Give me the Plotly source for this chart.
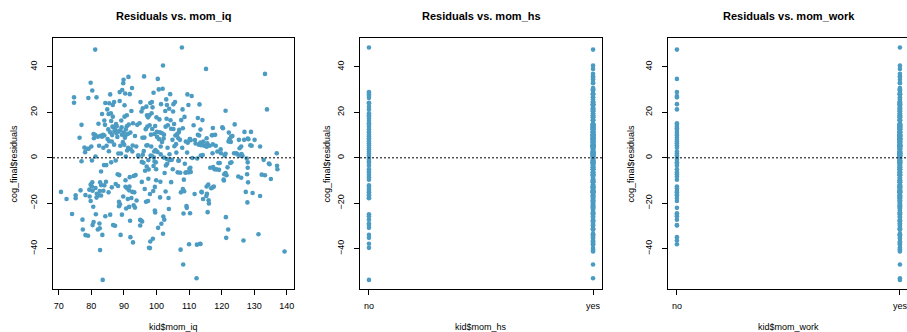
import plotly.graph_objects as go

# ---------------- data ----------------
mom_iq = [
70.7,72.4,74.1,74.7,74.7,75.2,75.2,76.4,76.7,77.0,77.0,77.3,77.4,77.9,78.1,78.2,78.2,78.8,79.0,79.1,
79.2,79.4,79.5,79.8,79.8,80.0,80.2,80.3,80.2,80.4,80.4,80.6,80.7,80.8,81.2,81.2,81.3,81.4,81.6,81.7,
82.0,82.0,82.2,82.3,82.4,82.5,82.6,82.7,82.7,83.0,83.0,83.3,83.3,83.4,83.5,83.7,83.7,83.9,84.0,84.0,
84.0,84.2,84.3,84.3,84.5,84.6,84.7,84.9,85.0,85.3,85.3,85.4,85.5,85.5,85.8,85.8,86.0,86.1,86.1,86.3,
86.5,86.6,86.6,86.7,86.9,87.0,87.0,87.1,87.3,87.3,87.5,87.7,87.8,88.0,88.1,88.3,88.3,88.5,88.5,88.6,
88.7,88.7,88.8,88.9,89.0,89.1,89.2,89.3,89.4,89.5,89.7,89.8,89.9,90.0,90.1,90.2,90.2,90.3,90.4,90.4,
90.5,90.5,90.6,90.7,90.9,90.9,91.0,91.2,91.2,91.3,91.4,91.5,91.6,91.7,91.8,91.8,91.9,92.0,92.0,92.1,
92.3,92.3,92.5,92.6,92.7,92.8,92.8,93.0,93.0,93.2,93.4,93.4,93.6,93.8,94.1,94.5,94.8,95.0,95.0,95.1,
95.3,95.4,95.5,95.6,95.7,95.8,96.0,96.2,96.3,96.4,96.5,96.7,96.8,96.9,96.9,97.0,97.1,97.2,97.3,97.4,
97.4,97.5,97.6,97.7,97.8,97.9,98.0,98.0,98.1,98.1,98.2,98.3,98.4,98.5,98.6,98.7,98.8,98.9,99.0,99.1,
99.1,99.2,99.3,99.4,99.4,99.5,99.5,99.6,99.6,99.7,99.8,99.9,100.0,100.1,100.2,100.3,100.4,100.5,100.7,100.8,
100.9,101.0,101.1,101.2,101.3,101.4,101.5,101.6,101.7,101.9,102.0,102.0,102.1,102.2,102.3,102.3,102.4,102.5,102.7,102.8,
102.9,103.0,103.1,103.2,103.3,103.4,103.5,103.7,103.8,103.9,104.0,104.2,104.3,104.5,104.7,104.9,105.0,105.1,105.2,105.4,
105.5,105.7,105.8,106.0,106.1,106.3,106.5,106.7,106.9,107.0,107.3,107.4,107.5,107.6,107.8,107.9,108.0,108.1,108.2,108.3,
108.4,108.6,108.7,108.9,109.0,109.2,109.4,109.5,109.6,109.8,109.9,110.0,110.1,110.2,110.3,110.4,110.5,110.8,111.0,111.4,
111.7,112.0,112.3,112.4,112.5,112.7,113.0,113.1,113.2,113.4,113.5,113.6,113.8,114.0,114.1,114.2,114.3,114.4,114.7,115.2,
115.3,115.4,115.5,115.6,115.7,115.9,116.0,116.1,116.3,116.5,116.8,117.0,117.2,117.3,117.4,117.6,117.8,118.0,118.2,118.4,
118.7,119.0,119.2,119.4,119.8,120.2,120.4,120.6,120.9,121.2,121.2,121.3,121.4,121.5,121.8,122.0,122.1,122.4,122.6,123.0,
123.3,123.8,124.0,124.5,124.9,125.1,125.3,125.7,126.0,126.4,126.7,126.9,127.0,127.4,127.7,127.8,127.9,128.0,128.1,128.2,
128.8,129.0,129.5,130.1,131.3,131.8,132.3,132.9,133.3,133.3,133.9,134.5,134.7,135.1,136.9,137.0,137.1,139.3,
105.2,108.1,110.3,111.8,113.8,115.4,117.3,119.7,121.2,122.8,122.2,122.9,125.5,131.8,126.1,128.0,129.2,107.2,106.4,112.7,
113.5,117.3,115.4,106.9,108.5,109.3,113.5,113.9,117.3,120.7,128.0,110.5,109.1,106.7,120.8,126.0,
80.7,82.9,83.6,85.8,86.4,87.6,88.9,90.6,85.2,89.4,91.0,92.6,94.4,96.1,98.6,101.3,103.2,104.0,95.8,97.5,
79.8,80.3,81.3,82.6,83.0,81.6,86.3,87.5,88.2,89.8,91.6,93.9,95.5,99.9,104.5,102.8,
]

residuals = [
-15.0,-18.1,-24.7,26.6,24.2,-16.5,-17.8,8.8,-14.3,14.5,-1.5,-27.2,-31.5,4.5,2.5,-16.4,-34.0,4.0,-34.3,26.3,
4.0,-14.0,-17.0,33.0,-19.0,5.0,-1.2,29.6,-12.6,-14.5,-29.6,-21.5,-28.2,8.6,47.6,10.0,0.6,-24.8,26.6,-15.8,
9.3,-31.5,15.0,-16.5,5.3,-28.9,-31.0,-40.6,-10.8,-6.0,-12.0,9.3,19.3,-33.9,-53.7,4.4,-14.5,-3.2,9.8,-12.1,
16.4,14.5,24.1,-25.7,-10.5,-3.2,5.3,21.3,8.3,19.3,-15.2,2.9,24.0,7.3,27.9,-25.0,19.6,16.2,-2.0,7.2,
13.7,23.2,18.1,-29.6,13.4,24.5,5.8,11.7,-29.9,12.6,-1.2,10.9,13.9,9.2,-7.2,11.5,1.9,-21.3,-19.4,-7.6,
28.9,25.0,-20.4,5.3,-33.9,1.9,16.4,13.4,-25.0,29.8,6.9,32.8,34.3,11.1,5.7,23.1,18.1,8.8,9.5,28.3,
-9.9,-12.7,0.6,-22.3,13.9,18.7,-13.4,10.5,-18.1,4.4,35.6,14.6,-14.3,-12.6,28.0,-8.5,-27.7,11.1,-34.9,3.8,
-17.7,20.6,30.7,-15.0,5.4,-37.2,15.2,-8.0,-20.9,-15.2,-21.9,9.6,-7.6,5.0,14.5,0.6,15.2,-27.3,-29.8,24.5,
-27.6,20.4,-1.8,-28.0,8.8,21.8,-2.2,35.8,8.9,-13.7,-5.7,12.6,-19.3,22.5,5.4,-3.8,18.7,13.7,5.5,17.8,
-19.0,-9.2,-5.1,-39.6,18.7,14.3,-39.7,-15.9,-36.8,24.1,1.0,10.2,5.0,19.6,24.5,12.7,22.2,-35.6,-14.6,28.6,
-3.6,0.1,2.8,10.5,-1.6,-12.8,-23.2,-24.0,14.0,3.4,-2.0,-5.0,17.8,11.4,9.2,2.6,34.7,-30.8,30.1,8.2,
16.9,11.2,-17.4,-10.5,5.0,23.6,-29.0,10.9,7.0,30.4,40.6,-33.4,-25.8,8.5,10.2,0.1,-27.2,-6.7,20.6,13.7,
-3.4,25.7,17.2,23.2,-2.6,4.4,14.3,-17.7,-22.5,21.6,1.6,28.0,16.5,12.8,-0.9,7.9,-5.0,20.4,23.6,14.9,
5.1,24.5,9.8,6.0,2.3,10.2,-6.4,8.6,11.4,12.3,-6.6,-40.4,-15.2,16.6,48.5,4.4,21.3,-13.7,-46.9,-24.5,
-9.6,18.0,-2.6,-6.6,7.2,-21.2,2.3,27.9,6.6,23.2,-6.4,-38.0,-4.8,8.2,-24.4,-4.4,7.7,27.2,-0.1,14.3,
-15.9,6.3,-53.0,-38.2,-0.3,17.5,5.8,9.8,23.5,-37.8,12.4,1.0,-14.9,6.4,16.6,1.2,-18.1,7.2,5.3,39.1,
-16.8,-12.6,-15.8,6.4,-23.9,-11.8,-18.7,-20.1,5.3,-4.4,-13.4,9.9,2.0,13.1,-4.1,-12.6,-5.0,10.1,5.3,-5.1,
2.8,-2.3,-5.3,-2.3,2.0,13.4,13.0,-9.6,1.0,20.7,-6.7,-26.1,-35.2,-7.7,-4.2,-31.5,7.2,8.2,-2.3,-2.0,
9.6,2.0,14.7,2.0,1.5,-8.2,7.9,0.9,5.0,0.9,-36.4,7.9,11.4,-15.0,-0.3,-7.2,-19.6,-2.0,-10.8,8.2,
5.5,11.4,-15.5,7.9,-33.6,-16.8,-7.4,-0.9,-7.7,36.9,21.3,-2.5,-2.8,-9.3,2.0,-3.5,-5.0,-41.2,
12.7,13.0,8.3,7.8,5.5,4.9,5.9,3.8,1.8,7.0,11.1,9.3,4.2,5.0,1.7,8.5,5.3,7.9,10.5,10.1,
6.7,10.0,8.6,-1.2,-14.7,-22.0,-37.9,-15.2,-13.0,-10.0,-4.4,-6.2,-6.4,-1.3,-7.2,-8.8,
10.5,9.7,10.1,11.2,10.0,14.8,12.1,12.5,12.5,10.2,3.2,2.8,1.1,3.0,0.8,1.5,-0.5,-1.0,1.4,-1.0,
-11.8,-10.8,-13.3,-14.6,-16.6,-17.5,-13.0,-11.5,-12.4,-17.0,-21.6,-18.8,-10.6,-9.9,-10.7,-14.8,
]

# residual values of the children whose mother has no high-school degree / does not work
hs_no_residuals = [
48.5,29.1,28.5,27.8,27.0,26.3,24.2,23.8,22.5,21.3,19.6,18.7,18.0,17.2,16.2,15.2,14.5,13.7,12.6,11.4,
11.1,10.2,9.5,8.6,7.9,7.2,6.4,5.5,4.4,3.8,2.8,1.9,1.0,0.1,-0.9,-1.6,-2.3,-3.5,-5.0,-6.0,
-6.7,-7.6,-8.5,-9.6,-12.1,-12.8,-13.7,-14.5,-15.2,-15.9,-16.5,-17.4,-17.8,-24.8,-25.7,-27.2,-28.9,-29.6,-30.8,-33.9,
-35.2,-37.8,-39.6,-53.7,
]
work_no_residuals = [
47.6,34.7,29.1,27.0,26.5,23.7,21.2,15.2,14.5,13.7,13.0,12.3,11.4,10.5,9.8,8.8,7.9,7.2,6.4,5.5,
4.4,2.8,1.9,1.0,0.1,-0.9,-2.0,-2.6,-3.5,-5.0,-6.4,-7.2,-8.2,-9.6,-12.6,-13.4,-14.5,-15.2,-15.9,-16.5,
-17.7,-19.0,-22.0,-24.4,-25.0,-25.7,-27.2,-29.3,-29.8,-34.7,-36.2,-38.1,
]

levels = ["no", "yes"]
titles = ["Residuals vs. mom_iq", "Residuals vs. mom_hs", "Residuals vs. mom_work"]
xlabels = ["kid$mom_iq", "kid$mom_hs", "kid$mom_work"]
ylabel = "cog_final$residuals"
iq_ticks = [70, 80, 90, 100, 110, 120, 130, 140]
res_ticks = [-40, -20, 0, 20, 40]


def group_labels(no_values):
    """Label each residual 'no' if it matches one of the values read in the 'no' column."""
    labels = ["yes"] * len(residuals)
    used = set()
    for v in no_values:
        best, bd = None, 1e9
        for i, r in enumerate(residuals):
            if i in used:
                continue
            d = abs(r - v)
            if d < bd:
                best, bd = i, d
        used.add(best)
        labels[best] = "no"
    return labels


mom_hs = group_labels(hs_no_residuals)
mom_work = group_labels(work_no_residuals)

# ---------------- layout helpers ----------------
W, H = 907, 332
def fx(p):
    return p / W
def fy(p):
    return 1 - p / H

TOP, BOT = 38, 289
boxes = [(53, 294), (360, 602), (668, 907)]
PT_COLOR = "#4B9BC2"
FONT = "Liberation Sans, Arial, Helvetica, sans-serif"

fig = go.Figure()
marker = dict(color=PT_COLOR, size=4.6, line=dict(width=0))
fig.add_trace(go.Scatter(x=mom_iq, y=residuals, mode="markers", marker=marker,
                         xaxis="x", yaxis="y", showlegend=False, hoverinfo="skip"))
fig.add_trace(go.Scatter(x=mom_hs, y=residuals, mode="markers", marker=marker,
                         xaxis="x2", yaxis="y2", showlegend=False, hoverinfo="skip"))
fig.add_trace(go.Scatter(x=mom_work, y=residuals, mode="markers", marker=marker,
                         xaxis="x3", yaxis="y3", showlegend=False, hoverinfo="skip"))

yr = [-57.7, 52.7]
common = dict(showgrid=False, zeroline=False, showline=True, linecolor="black", linewidth=1,
              ticks="outside", ticklen=5, tickwidth=1, tickcolor="black",
              tickfont=dict(family=FONT, size=9, color="black"))

layout = dict(width=W, height=H, autosize=False, margin=dict(l=0, r=0, t=0, b=0),
              paper_bgcolor="white", plot_bgcolor="white", showlegend=False)

xaxis_specs = [
    dict(range=[68.25, 142.2], tickvals=iq_ticks),
    dict(type="category", categoryorder="array", categoryarray=levels, range=[-0.04, 1.04]),
    dict(type="category", categoryorder="array", categoryarray=levels, range=[-0.04, 1.0318]),
]
for k in range(3):
    sfx = "" if k == 0 else str(k + 1)
    l, r = boxes[k]
    xa = dict(common, domain=[fx(l), min(1.0, fx(r))], anchor="y" + sfx, mirror=True,
              ticklabelstandoff=3, **xaxis_specs[k])
    ya = dict(common, domain=[fy(BOT), fy(TOP)], anchor="x" + sfx, range=yr,
              tickvals=res_ticks, tickangle=-90, mirror=(k < 2), ticklabelstandoff=6)
    layout["xaxis" + sfx] = xa
    layout["yaxis" + sfx] = ya

fig.update_layout(**layout)

# dotted reference line at 0
for k in range(3):
    sfx = "" if k == 0 else str(k + 1)
    fig.add_shape(type="line", xref=("x" + sfx + " domain"), yref="y" + sfx,
                  x0=0, x1=1, y0=0, y1=0,
                  line=dict(color="black", width=1, dash="2px,2px"))

ytitle_x = [13, 326, 630]
for k in range(3):
    l, r = boxes[k]
    cx = (l + (r if k < 2 else 909)) / 2
    fig.add_annotation(text="<b>" + titles[k] + "</b>", x=fx(cx), y=fy(15.5), xref="paper", yref="paper",
                       showarrow=False, xanchor="center", yanchor="middle",
                       font=dict(family=FONT, size=11, color="black"))
    fig.add_annotation(text=xlabels[k], x=fx(cx), y=fy(327), xref="paper", yref="paper",
                       showarrow=False, xanchor="center", yanchor="middle",
                       font=dict(family=FONT, size=9, color="black"))
    fig.add_annotation(text=ylabel, x=fx(ytitle_x[k]), y=fy((TOP + BOT) / 2), xref="paper", yref="paper",
                       showarrow=False, xanchor="center", yanchor="middle", textangle=-90,
                       font=dict(family=FONT, size=9, color="black"))

fig.write_html("out.html")
